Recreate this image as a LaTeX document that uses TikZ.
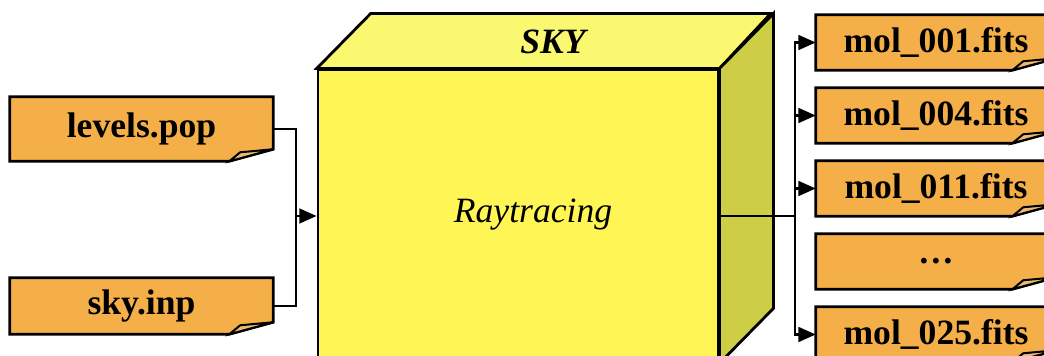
\documentclass[tikz,border=0pt]{standalone}
\usepackage{fontspec}
\setmainfont{Liberation Serif}
\definecolor{fileorange}{RGB}{244,175,72}
\definecolor{foldtan}{RGB}{236,186,112}
\definecolor{skyfront}{RGB}{255,245,85}
\definecolor{skytop}{RGB}{250,248,112}
\definecolor{skyside}{RGB}{205,205,70}
\usetikzlibrary{
  arrows.meta,
  backgrounds
}

% file outline with a turned-down corner, drawn round a named node
\newcommand{\dogear}[1]{%
  \filldraw[filebg] (#1.north west) -- (#1.north east) -- ([yshift=9pt]#1.south east)
    -- ([xshift=-33pt]#1.south east) -- (#1.south west) -- cycle;
  \filldraw[foldbg] ([xshift=-33pt]#1.south east) -- ([xshift=-24.75pt,yshift=6.75pt]#1.south east)
    -- ([yshift=9pt]#1.south east) -- cycle;
}

\begin{document}
\begin{tikzpicture}[
  x=0.75pt, y=-0.75pt,
  file/.style={inner sep=0pt, minimum width=197.25pt, font=\fontsize{26.7}{32}\selectfont\bfseries},
  outfile/.style={file, minimum width=180pt, minimum height=41.25pt},
  filebg/.style={draw=black, line width=2pt, fill=fileorange},
  foldbg/.style={draw=black, line width=1.5pt, fill=foldtan},
  face/.style={draw=black, line width=2.1pt},
  label/.style={font=\fontsize{26.7}{32}\selectfont\itshape},
  link/.style={line width=2pt},
  pipe/.style={link, -{Triangle[length=13pt, width=11pt]}}
]
  \useasboundingbox (0,0) rectangle (1044,356);
  \clip (0,0) rectangle (1044,356);

  % Inputs
  \node[file, minimum height=48pt] (levels) at (141.5,129) {levels.pop};
  \node[file, minimum height=42pt] (skyinp) at (141.5,306) {sky.inp};

  % Box
  \node[face, fill=skyfront, minimum width=300pt, minimum height=219pt, inner sep=0pt] (sky) at (518,216) {};
  \draw[face, fill=skytop] (sky.north west) -- ++(54,-55) -- ++(400,0) -- (sky.north east) -- cycle;
  \draw[face, fill=skyside] (sky.north east) -- ++(54,-55) -- ([shift={(54,-55)}]sky.south east) -- (sky.south east) -- cycle;
  \node[label, font=\fontsize{26.7}{32}\selectfont\bfseries\itshape] (skyname) at (553,42) {SKY};
  \node[label] (skytask) at (533,215) {Raytracing};

  % Outputs
  \node[outfile] (mol001) at (936,42.5) {mol\_001.fits};
  \node[outfile] (mol004) at (936,115.5) {mol\_004.fits};
  \node[outfile] (mol011) at (936,188.5) {mol\_011.fits};
  \node[outfile] (moldots) at (936,261.5) {\dots};
  \node[outfile] (mol025) at (936,334.5) {mol\_025.fits};

  \begin{scope}[on background layer]
    \clip (0,0) rectangle (1044,356);
    \foreach \f in {levels,skyinp,mol001,mol004,mol011,moldots,mol025}
      {\dogear{\f}}
  \end{scope}

  % Links
  \coordinate (merge) at (296,216);
  \coordinate (split) at (795,216);
  \draw[link] (levels.east) -| (merge);
  \draw[link] (skyinp.east) -| (merge);
  \draw[pipe] (merge) -- (sky.west);
  \draw[link] (sky.east) -- (split);
  \foreach \m in {001,004,011,025}
    \draw[pipe] (split) |- (mol\m.west);
\end{tikzpicture}
\end{document}
